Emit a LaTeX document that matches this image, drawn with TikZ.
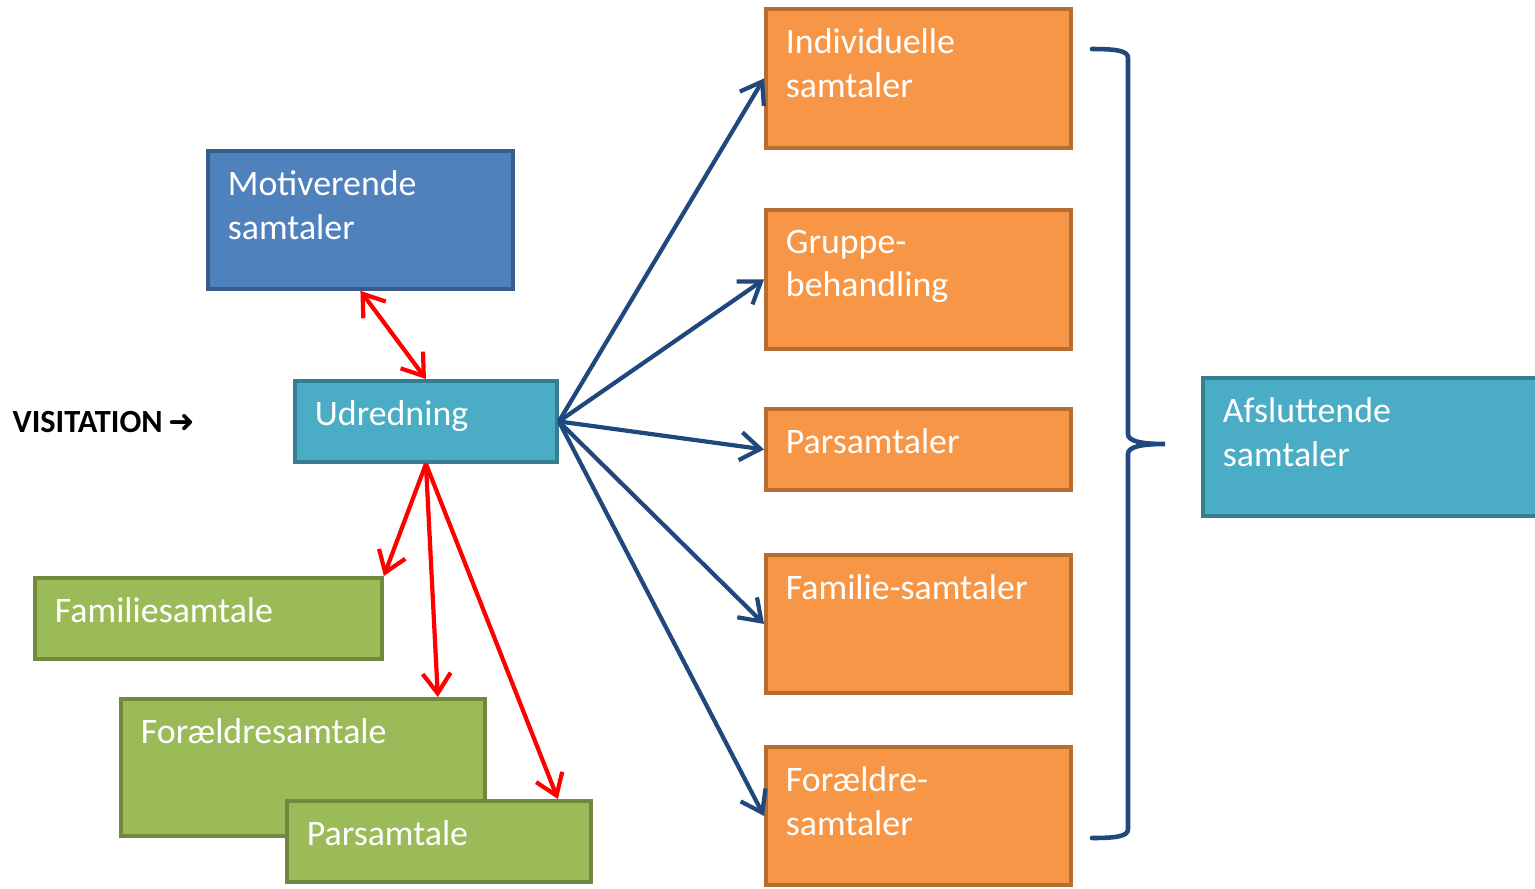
\documentclass[tikz,border=0pt]{standalone}
\usepackage{fontspec}
\setmainfont{Carlito}
\newfontfamily\symfont{DejaVu Sans}
\usetikzlibrary{arrows.meta}

\definecolor{bluefill}{HTML}{4F81BD}
\definecolor{blueline}{HTML}{385D8A}
\definecolor{tealfill}{HTML}{4BACC6}
\definecolor{tealline}{HTML}{357D91}
\definecolor{greenfill}{HTML}{9BBB59}
\definecolor{greenline}{HTML}{71893F}
\definecolor{orangefill}{HTML}{F79646}
\definecolor{orangeline}{HTML}{B66D31}
\definecolor{darkblue}{HTML}{1F497D}

\tikzset{
  box/.style 2 args={draw, line width=1.1pt, anchor=north west, inner xsep=0.2cm, inner ysep=0.2cm,
    text=white, font=\fontsize{10.2}{12.3}\selectfont,
    execute at begin node={\begin{minipage}[t][#2][t]{#1}\raggedright},
    execute at end node={\end{minipage}}},
  bluebox/.style={fill=bluefill, draw=blueline},
  tealbox/.style={fill=tealfill, draw=tealline},
  greenbox/.style={fill=greenfill, draw=greenline},
  orangebox/.style={fill=orangefill, draw=orangeline},
  redarrow/.style={draw=red, line width=1.2pt, -{Straight Barb[length=2mm,width=2.8mm]}},
  bluearrow/.style={draw=darkblue, line width=1.2pt, -{Straight Barb[length=2mm,width=2.8mm]}}
}

\begin{document}
\begin{tikzpicture}
\useasboundingbox (0,0) rectangle (15.35,-8.88);
% left column
\node[anchor=west, inner sep=0pt, font=\fontsize{9.2}{10}\selectfont\bfseries] (visit) at (0.12,-4.22) {VISITATION\,{\symfont\fontsize{9}{10}\selectfont ➜}};
\node[box={2.65cm}{0.98cm}, bluebox] (motiv) at (2.06,-1.49) {Motiverende\\samtaler};
\node[box={2.22cm}{0.41cm}, tealbox] (udred) at (2.93,-3.79) {Udredning};
\node[box={3.07cm}{0.41cm}, greenbox] (famil) at (0.33,-5.76) {Familiesamtale};
\node[box={3.24cm}{0.97cm}, greenbox] (foraeld) at (1.19,-6.97) {Forældresamtale};
\node[box={2.64cm}{0.41cm}, greenbox] (pars) at (2.85,-7.99) {Parsamtale};
% treatment column
\node[box={2.65cm}{0.99cm}, orangebox] (indiv) at (7.64,-0.07) {Individuelle\\samtaler};
\node[box={2.65cm}{0.99cm}, orangebox] (gruppe) at (7.64,-2.08) {Gruppe-\\behandling};
\node[box={2.65cm}{0.41cm}, orangebox] (parsamt) at (7.64,-4.07) {Parsamtaler};
\node[box={2.65cm}{0.98cm}, orangebox] (famsam) at (7.64,-5.53) {Familie-samtaler};
\node[box={2.65cm}{0.98cm}, orangebox] (forsam) at (7.64,-7.45) {Forældre-\\samtaler};
\node[box={3.1cm}{0.98cm}, tealbox] (afslut) at (12.01,-3.76) {Afsluttende\\samtaler};
% red arrows
\draw[redarrow, {Straight Barb[length=2mm,width=2.8mm]}-{Straight Barb[length=2mm,width=2.8mm]}] (motiv.south) -- (udred.north);
\draw[redarrow] (udred.south) -- (famil.north east);
\draw[redarrow] (udred.south) -- ([xshift=-4.9mm]foraeld.north east);
\draw[redarrow] (udred.south) -- ([xshift=-3.5mm]pars.north east);
% blue arrows
\draw[bluearrow] (udred.east) -- (indiv.west);
\draw[bluearrow] (udred.east) -- (gruppe.west);
\draw[bluearrow] (udred.east) -- (parsamt.west);
\draw[bluearrow] (udred.east) -- (famsam.west);
\draw[bluearrow] (udred.east) -- (forsam.west);
% brace
\coordinate (brtop) at (10.92,-0.49);
\coordinate (brtip) at (11.65,-4.44);
\coordinate (brbot) at (10.92,-8.38);
\draw[darkblue, line width=1.3pt, line cap=round]
  (brtop) .. controls (11.18,-0.49) and (11.28,-0.51) .. (11.28,-0.58)
  -- (11.28,-4.34) .. controls (11.28,-4.41) and (11.40,-4.44) .. (brtip)
  .. controls (11.40,-4.44) and (11.28,-4.47) .. (11.28,-4.54)
  -- (11.28,-8.29) .. controls (11.28,-8.36) and (11.18,-8.38) .. (brbot);
\end{tikzpicture}
\end{document}
